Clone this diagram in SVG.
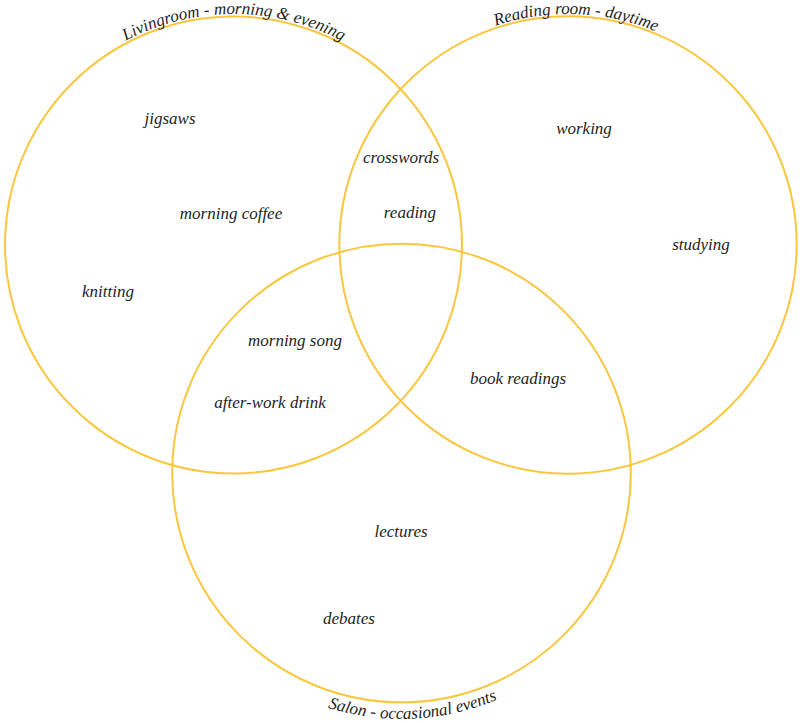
<svg xmlns="http://www.w3.org/2000/svg" xmlns:xlink="http://www.w3.org/1999/xlink" width="804" height="723" viewBox="0 0 804 723">
<style>
.set{fill:none;stroke:#F9C63E;stroke-width:2}
.t{font-family:'Liberation Serif','DejaVu Serif',serif;font-style:italic;font-size:17px;fill:#1e1e24;text-anchor:middle}
.lab{font-family:'Liberation Serif','DejaVu Serif',serif;font-style:italic;font-size:17px;fill:#1e1e24;text-anchor:middle}
</style>
<defs>
<path id="pLiving" d="M 2.5 245 A 231 231 0 0 1 464.5 245"/>
<path id="pReading" d="M 337 245 A 231 231 0 0 1 799 245"/>
<path id="pSalon" d="M 155.5 473 A 246 246 0 0 0 647.5 473"/>
</defs>
<rect width="804" height="723" fill="#ffffff"/>
<g id="livingroom">
<circle class="set" cx="233.5" cy="245" r="228.5"/>
<text class="lab"><textPath xlink:href="#pLiving" href="#pLiving" startOffset="363">Livingroom - morning &amp; evening</textPath></text>
</g>
<g id="readingroom">
<circle class="set" cx="568" cy="245" r="228.7"/>
<text class="lab"><textPath xlink:href="#pReading" href="#pReading" startOffset="371">Reading room - daytime</textPath></text>
</g>
<g id="salon">
<circle class="set" cx="401.5" cy="473" r="229.3"/>
<text class="lab"><textPath xlink:href="#pSalon" href="#pSalon" startOffset="398">Salon - occasional events</textPath></text>
</g>
<g id="connectors"></g>
<g id="items">
<text id="jigsaws" class="t" x="170" y="124">jigsaws</text>
<text id="morning-coffee" class="t" x="231" y="219">morning coffee</text>
<text id="knitting" class="t" x="108" y="297">knitting</text>
<text id="crosswords" class="t" x="401" y="163">crosswords</text>
<text id="reading" class="t" x="410" y="218">reading</text>
<text id="working" class="t" x="584" y="134">working</text>
<text id="studying" class="t" x="701" y="250">studying</text>
<text id="morning-song" class="t" x="295" y="346">morning song</text>
<text id="after-work-drink" class="t" x="270" y="408">after-work drink</text>
<text id="book-readings" class="t" x="518" y="384">book readings</text>
<text id="lectures" class="t" x="401" y="537">lectures</text>
<text id="debates" class="t" x="349" y="624">debates</text>
</g>
</svg>
